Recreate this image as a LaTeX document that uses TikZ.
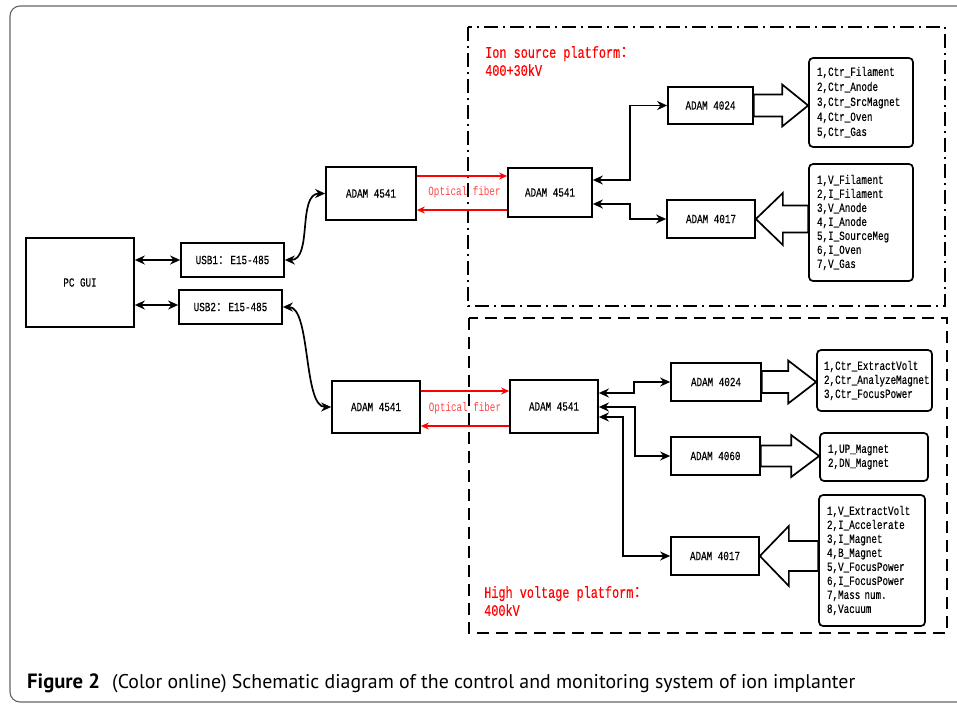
\documentclass[tikz,border=0pt]{standalone}
\usepackage{fontspec}
\setmainfont{Liberation Serif}
\setmonofont{Liberation Mono}
\newfontfamily\diag[FakeStretch=0.74, FakeBold=0.35]{Liberation Mono}
\newfontfamily\diaglight[FakeStretch=0.74]{Liberation Mono}
\newfontfamily\cjk{Noto Sans CJK SC}
\newfontfamily\capfont{PT Sans}
\usetikzlibrary{arrows.meta,calc}
\definecolor{framegray}{RGB}{100,100,100}
\definecolor{fibertext}{RGB}{255,70,70}
\tikzset{
 box/.style={draw, line width=1.7pt, inner sep=0pt, font=\diag\fontsize{12.5}{14}\selectfont},
 lst/.style={draw, line width=1.7pt, rounded corners=4pt, inner ysep=0pt, inner xsep=8pt, align=left, font=\diag\fontsize{12.5}{14}\selectfont},
 conn/.style={line width=1.7pt, {Stealth[length=10pt,width=9pt]}-{Stealth[length=10pt,width=9pt]}},
 fiber/.style={draw=red, line width=1.8pt, -{Stealth[length=8pt,width=7pt]}},
 blk/.style={draw, fill=white, line width=1.7pt, line join=miter},
 plat/.style={text=red, font=\diag\fontsize{16}{18}\selectfont, align=left, inner sep=0pt},
 ftext/.style={text=fibertext, font=\diaglight\fontsize{12.5}{14}\selectfont, inner sep=0pt}
}
% right-pointing block arrow: tail node, tip node, body half, head half, head length
\newcommand\fatR[5]{\filldraw[blk] let \p1=(#1.east), \p2=(#2.west) in
  (\x1,\y1+#3) -- (\x2-#5,\y1+#3) -- (\x2-#5,\y1+#4) -- (\x2,\y1) -- (\x2-#5,\y1-#4) -- (\x2-#5,\y1-#3) -- (\x1,\y1-#3) -- cycle;}
% left-pointing block arrow: tail node (right), tip node (left)
\newcommand\fatL[5]{\filldraw[blk] let \p1=(#1.west), \p2=(#2.east) in
  (\x1,\y2+#3) -- (\x2+#5,\y2+#3) -- (\x2+#5,\y2+#4) -- (\x2,\y2) -- (\x2+#5,\y2-#4) -- (\x2+#5,\y2-#3) -- (\x1,\y2-#3) -- cycle;}
\begin{document}
\begin{tikzpicture}[x=1pt,y=-1pt]
\useasboundingbox (0,0) rectangle (957,704);
\clip (0,0) rectangle (957,704);
% outer frame
\draw[framegray, line width=1.1pt, rounded corners=10pt] (10,6) rectangle (975,702);

% platforms
\draw[line width=1.8pt, dash pattern=on 14pt off 5pt on 2pt off 5pt] (468,27) rectangle (945,306);
\draw[line width=1.8pt, dash pattern=on 12pt off 7pt] (469,318) rectangle (947,633);
\node[plat, anchor=north west] (plat1) at (485,46) {Ion source platform{\cjk ：}\\400+30kV};
\node[plat, anchor=north west] (plat2) at (484,586) {High voltage platform{\cjk ：}\\400kV};

% left side
\node[box, minimum width=108, minimum height=89] (pc) at (80,282.5) {PC GUI};
\node[box, minimum width=103, minimum height=34] (usb1) at (232.5,260) {USB1{\cjk ：}E15-485};
\node[box, minimum width=103, minimum height=34] (usb2) at (230.5,307) {USB2{\cjk ：}E15-485};
\node[box, minimum width=90, minimum height=53] (uA) at (371,193.5) {ADAM 4541};
\node[box, minimum width=88, minimum height=52] (lA) at (376,407) {ADAM 4541};

% upper platform
\node[box, minimum width=84, minimum height=49] (uB) at (550,192.5) {ADAM 4541};
\node[box, minimum width=85, minimum height=37] (u4024) at (710.5,105.5) {ADAM 4024};
\node[box, minimum width=88, minimum height=38] (u4017) at (711,219) {ADAM 4017};
\node[lst, text width=88, minimum height=89, font=\diag\fontsize{12.5}{15}\selectfont] (ul1) at (861,102.5)
 {1,Ctr\_Filament\\2,Ctr\_Anode\\3,Ctr\_SrcMagnet\\4,Ctr\_Oven\\5,Ctr\_Gas};
\node[lst, text width=88, minimum height=117] (ul2) at (861,222.5)
 {1,V\_Filament\\2,I\_Filament\\3,V\_Anode\\4,I\_Anode\\5,I\_SourceMeg\\6,I\_Oven\\7,V\_Gas};

% lower platform
\node[box, minimum width=88, minimum height=53] (lB) at (554,406.5) {ADAM 4541};
\node[box, minimum width=90, minimum height=38] (l4024) at (716,382) {ADAM 4024};
\node[box, minimum width=89, minimum height=38] (l4060) at (715.5,456) {ADAM 4060};
\node[box, minimum width=88, minimum height=38] (l4017) at (715,556) {ADAM 4017};
\node[lst, text width=101, inner xsep=7pt, minimum height=61] (ll1) at (874.5,380.5)
 {1,Ctr\_ExtractVolt\\2,Ctr\_AnalyzeMagnet\\3,Ctr\_FocusPower};
\node[lst, text width=92, minimum height=48] (ll2) at (874,457)
 {1,UP\_Magnet\\2,DN\_Magnet};
\node[lst, text width=90, minimum height=131] (ll3) at (872,560.5)
 {1,V\_ExtractVolt\\2,I\_Accelerate\\3,I\_Magnet\\4,B\_Magnet\\5,V\_FocusPower\\6,I\_FocusPower\\7,Mass num.\\8,Vacuum};

% helper coordinates for heights
\coordinate (y176) at (0,176);
\coordinate (y210) at (0,210);
\coordinate (y391) at (0,391);
\coordinate (y426) at (0,426);
\coordinate (y180) at (0,180);
\coordinate (y204) at (0,204);
\coordinate (y393) at (0,393);
\coordinate (y407) at (0,407);
\coordinate (y417) at (0,417);
\coordinate (y305) at (0,305);

% PC links
\draw[conn] (pc.east |- usb1.west) -- (usb1.west);
\draw[conn] (pc.east |- y305) -- (usb2.west |- y305);
\draw[conn] (usb1.east) .. controls +(28,0) and +(-28,0) .. (uA.west);
\draw[conn] (usb2.east) .. controls +(28,0) and +(-28,0) .. (lA.west);

% optical fibers
\draw[fiber] (uA.east |- y176) -- (uB.west |- y176);
\draw[fiber] (uB.west |- y210) -- (uA.east |- y210);
\node[ftext] (of1) at (464.5,192) {Optical fiber};
\draw[fiber] (lA.east |- y391) -- (lB.west |- y391);
\draw[fiber] (lB.west |- y426) -- (lA.east |- y426);
\node[ftext] (of2) at (465,408) {Optical fiber};

% upper platform links
\draw[conn] (uB.east |- y180) -- ++(37,0) |- (u4024.west);
\draw[conn] (uB.east |- y204) -- ++(37,0) |- (u4017.west);
% lower platform links
\draw[conn] (lB.east |- y393) -- ++(35,0) |- (l4024.west);
\draw[conn] (lB.east |- y407) -- ++(36,0) |- (l4060.west);
\draw[conn] (lB.east |- y417) -- ++(24,0) |- (l4017.west);

% block arrows
\fatR{u4024}{ul1}{11}{21}{26}
\fatL{ul2}{u4017}{13.5}{26}{27}
\fatR{l4024}{ll1}{11}{21.5}{28}
\fatR{l4060}{ll2}{10.5}{21}{28}
\fatL{ll3}{l4017}{15}{30}{29}

% caption
\node[anchor=base west, inner sep=0pt] (capfig) at (27,688) {\resizebox{73pt}{!}{\capfont\bfseries Figure 2}};
\node[anchor=base west, inner sep=0pt] (captext) at (112,688) {\resizebox{743pt}{!}{\capfont (Color online) Schematic diagram of the control and monitoring system of ion implanter}};
\end{tikzpicture}
\end{document}
